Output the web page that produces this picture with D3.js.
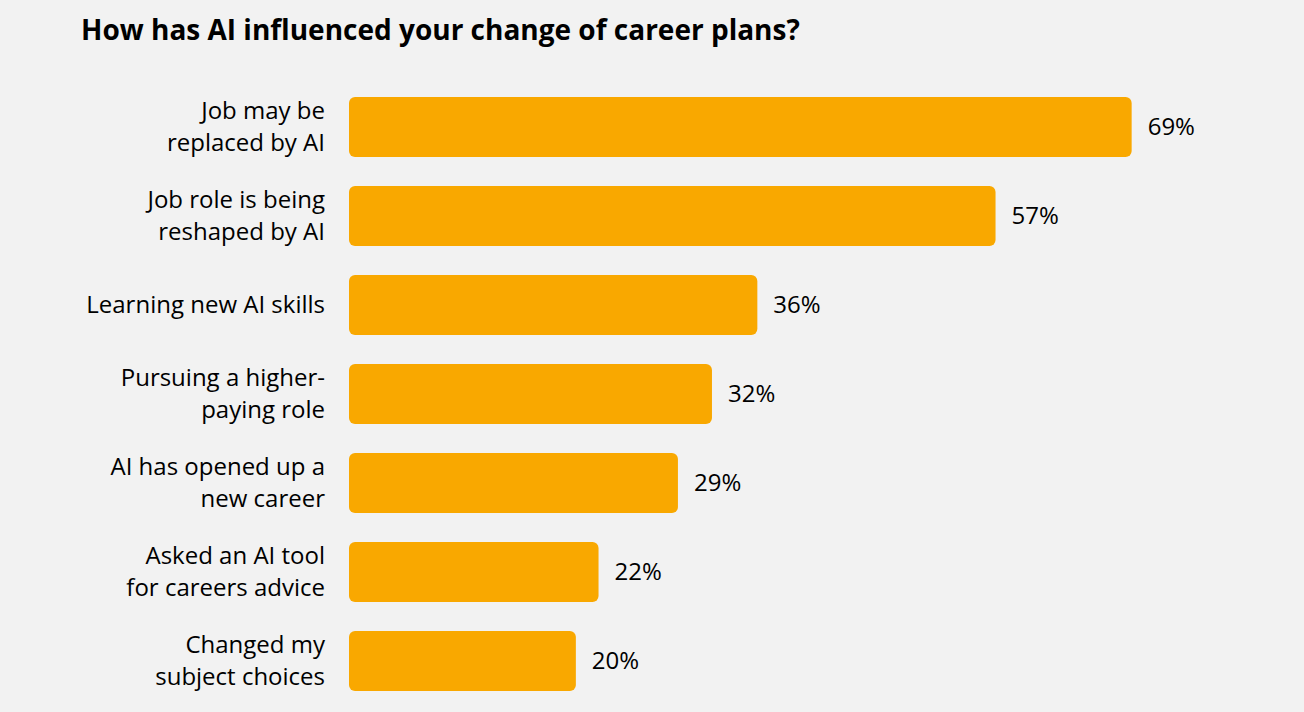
<!DOCTYPE html>
<html>
<head>
<meta charset="utf-8">
<script src="https://cdn.jsdelivr.net/npm/d3@7"></script>
<style>
  html, body { margin: 0; padding: 0; background: #f2f2f2; }
  svg { display: block; }
  text { font-family: "Open Sans", "Noto Sans", sans-serif; fill: #000; }
</style>
</head>
<body>
<script>

// chart data
var categories = [
  ["Job may be", "replaced by AI"],
  ["Job role is being", "reshaped by AI"],
  ["Learning new AI skills"],
  ["Pursuing a higher-", "paying role"],
  ["AI has opened up a", "new career"],
  ["Asked an AI tool", "for careers advice"],
  ["Changed my", "subject choices"]
];
var values = [69, 57, 36, 32, 29, 22, 20];
var title = "How has AI influenced your change of career plans?";


var width = 1304,
    height = 712,
    left = 349,
    barColor = "#f9a800";

var svg = d3.select("body")
  .append("svg")
    .attr("width", width)
    .attr("height", height);

svg.append("rect")
    .attr("width", width)
    .attr("height", height)
    .attr("fill", "#f2f2f2");

svg.append("text")
    .attr("x", 81)
    .attr("y", 40)
    .attr("font-size", 28)
    .attr("font-weight", "bold")
    .text(title);

var x = d3.scaleLinear()
    .domain([0, 70])
    .range([0, 794]);

// y band: step 89 with 60px bars
var y = d3.scaleBand()
    .domain(d3.range(values.length))
    .range([97, 97 + 89 * values.length - 29])
    .paddingInner(29 / 89)
    .paddingOuter(0)
    .align(0);

var rows = svg.selectAll("g.row")
  .data(values)
  .enter()
  .append("g")
    .attr("class", "row");

rows.append("rect")
    .attr("x", left)
    .attr("y", function(d, i) { return y(i); })
    .attr("width", function(d) { return x(d); })
    .attr("height", y.bandwidth())
    .attr("rx", 6)
    .attr("fill", barColor);

rows.append("text")
    .attr("x", function(d) { return left + x(d) + 16; })
    .attr("y", function(d, i) { return y(i) + y.bandwidth() / 2 + 8; })
    .attr("font-size", 24)
    .text(function(d) { return d + "%"; });

rows.append("text")
    .attr("text-anchor", "end")
    .attr("font-size", 24)
    .each(function(d, i) {
      var lines = categories[i],
          mid = y(i) + y.bandwidth() / 2,
          start = mid + 8 - (lines.length - 1) * 16,
          t = d3.select(this);
      lines.forEach(function(line, k) {
        t.append("tspan")
            .attr("x", 325)
            .attr("y", start + k * 32)
            .text(line);
      });
    });

</script>
</body>
</html>
